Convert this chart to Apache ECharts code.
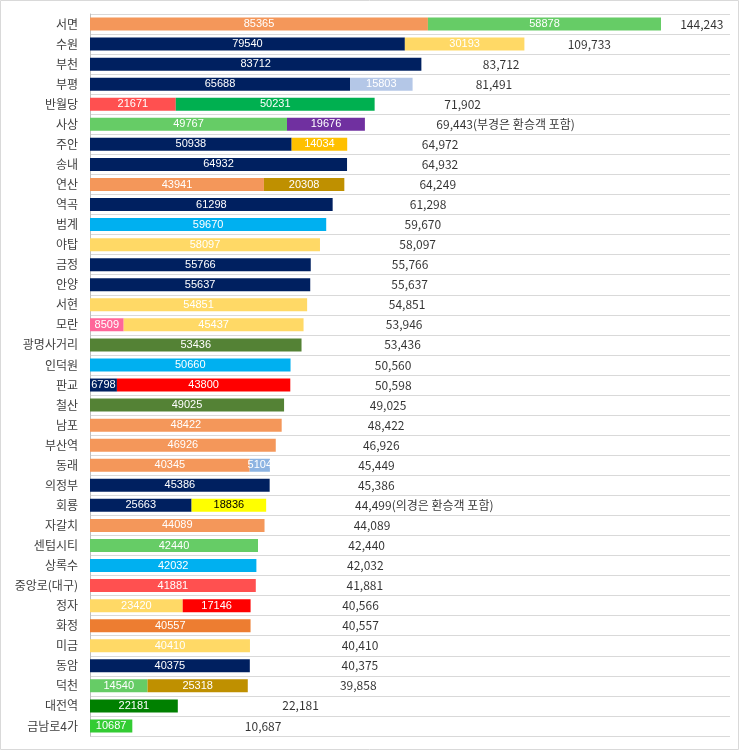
<!DOCTYPE html>
<html><head><meta charset="utf-8">
<script src="https://cdn.jsdelivr.net/npm/echarts@6/dist/echarts.min.js"></script>
<style>body{margin:0;background:#fff}#c{width:739px;height:750px}</style>
</head><body><div id="c"></div>
<script>
const stations = ['서면','수원','부천','부평','반월당','사상','주안','송내','연산','역곡','범계','야탑','금정','안양','서현','모란','광명사거리','인덕원','판교','철산','남포','부산역','동래','의정부','회룡','자갈치','센텀시티','상록수','중앙로(대구)','정자','화정','미금','동암','덕천','대전역','금남로4가'];
const first  = [85365,79540,83712,65688,21671,49767,50938,64932,43941,61298,59670,58097,55766,55637,54851,8509,53436,50660,6798,49025,48422,46926,40345,45386,25663,44089,42440,42032,41881,23420,40557,40410,40375,14540,22181,10687];
const second = [58878,30193,0,15803,50231,19676,14034,0,20308,0,0,0,0,0,0,45437,0,0,43800,0,0,0,5104,0,18836,0,0,0,0,17146,0,0,0,25318,0,0];
const totals = [144243,109733,83712,81491,71902,69443,64972,64932,64249,61298,59670,58097,55766,55637,54851,53946,53436,50560,50598,49025,48422,46926,45449,45386,44499,44089,42440,42032,41881,40566,40557,40410,40375,39858,22181,10687];
const notes = {5:'(부경은 환승객 포함)', 24:'(의경은 환승객 포함)'};

const N='#002060',O='#F4975A',Y='#FFD966',G='#66CC66',B='#00B0F0';
const c1=[O,N,N,N,'#FF5050',G,N,N,O,N,B,Y,N,N,Y,'#FF6699','#548235',B,N,'#548235',O,O,O,N,N,O,G,B,'#FF5050',Y,'#ED7D31',Y,N,G,'#008000','#33CC33'];
const c2=[G,Y,N,'#B4C7E7','#00B050','#7030A0','#FFC000',N,'#BF9000',N,N,N,N,N,N,Y,N,N,'#FF0000',N,N,N,'#8DB4E2',N,'#FFFF00',N,N,N,N,'#FF0000',N,N,N,'#BF9000',N,N];

const chart = echarts.init(document.getElementById('c'));
const lbl = {show:true,position:'inside',color:'#fff',fontSize:11,fontFamily:'Liberation Sans, Arial'};
chart.setOption({
  graphic:[{type:'rect',shape:{x:0.5,y:0.5,width:738,height:749},style:{fill:'none',stroke:'#d9d9d9'}}],
  grid:{left:90,right:9,top:14,bottom:14},
  xAxis:[
    {type:'value',min:0,max:161674,show:false},
    {type:'value',min:-36800,max:159520,show:false}
  ],
  yAxis:{type:'category',data:stations,inverse:true,
    axisLine:{lineStyle:{color:'#bfbfbf'}},axisTick:{show:false},
    splitLine:{show:true,lineStyle:{color:'#d9d9d9'}},
    axisLabel:{color:'#404040',fontSize:12,margin:12,fontFamily:'Noto Sans CJK KR'}},
  series:[
    {type:'bar',stack:'a',barWidth:13,data:first.map((v,i)=>({value:v,itemStyle:{color:c1[i]}})),label:lbl},
    {type:'bar',stack:'a',barWidth:13,data:second.map((v,i)=>({value:v||null,itemStyle:{color:c2[i]},
        label:{color:c2[i]==='#FFFF00'?'#000':'#fff'}})),label:lbl},
    {type:'scatter',xAxisIndex:1,symbolSize:0,silent:true,clip:false,
      data:totals.map((v,i)=>[v,stations[i]]),
      label:{show:true,position:'right',distance:0,color:'#000',fontSize:12,fontFamily:'Noto Sans CJK KR',
        formatter:p=>p.value[0].toLocaleString('en-US')+(notes[p.dataIndex]||'')}}
  ]
});
</script></body></html>
